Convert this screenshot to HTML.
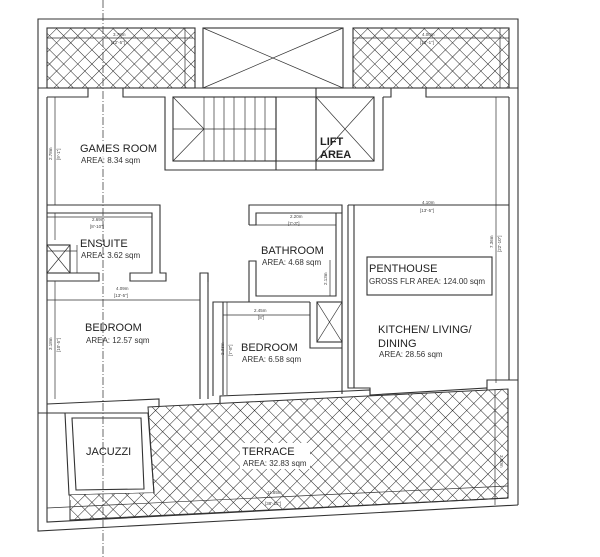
<!DOCTYPE html>
<html><head><meta charset="utf-8"><style>
html,body{margin:0;padding:0;background:#fff;}
svg{display:block;font-family:"Liberation Sans",sans-serif;}
.w{fill:none;stroke:#333;stroke-width:1.1}
.t{fill:#222;font-size:11px}
.s{fill:#333;font-size:8px}
.d{fill:#444;font-size:4.5px}
.dl{stroke:#333;stroke-width:0.7;fill:none}
</style></head><body>
<svg width="600" height="557" viewBox="0 0 600 557" xmlns="http://www.w3.org/2000/svg">
<defs>
<pattern id="h" width="10" height="10" patternUnits="userSpaceOnUse" patternTransform="rotate(45)">
<rect width="10" height="10" fill="#fff"/>
<path d="M0 0H10M0 0V10" stroke="#222" stroke-width="1"/>
</pattern>
</defs>
<rect width="600" height="557" fill="#fff"/>

<!-- top balconies -->
<rect x="47" y="28" width="148" height="60" fill="url(#h)" stroke="#333" stroke-width="1.1"/>
<rect x="353" y="28" width="156" height="60" fill="url(#h)" stroke="#333" stroke-width="1.1"/>
<rect x="203" y="28" width="140" height="60" class="w"/>
<path d="M203 28L343 88M203 88L343 28" class="dl"/>

<!-- outer walls -->
<path d="M38 413V19H518V505" class="w"/>
<path d="M47 413V97" class="w"/>
<path d="M509 97V380" class="w"/>
<path d="M38 88H518" class="w"/>
<path d="M47 97H88V88M123 88V97H165V170H276V161M276 97V170" class="w"/>
<path d="M383 97H391V88M426 88V97H509" class="w"/>

<!-- stairs -->
<rect x="173" y="97" width="103" height="64" class="w"/>
<path d="M173 129H276M173 97L204 129L173 161" class="dl"/>
<path d="M204 97V161M214 97V161M224 97V161M234 97V161M245 97V161M255 97V161M265 97V161" class="dl"/>
<path d="M276 97H316M276 161H316M276 170H316" class="w"/>

<!-- lift -->
<rect x="316" y="97" width="58" height="64" class="w"/>
<path d="M316 97L374 161M374 97L316 161" class="dl"/>
<path d="M316 170H383V97" class="w"/>
<path d="M316 88V170" class="w"/>

<!-- ensuite -->
<path d="M47 205H160V273H166V281H130V273H152V213H47" class="w"/>
<path d="M47 273H99V281H47" class="w"/>
<rect x="47" y="245" width="23" height="28" class="w"/>
<path d="M47 245L70 273M70 245L47 273M47 251H77V273M77 245V273" class="dl"/>

<!-- bedroom1 right wall -->
<path d="M200 399V273H208V399" class="w"/>
<path d="M208 282V273" class="w"/>

<!-- bathroom -->
<path d="M249 225V205H342V213" class="w"/>
<path d="M249 225H256V213H336V296H256V261H249V302" class="w"/>
<path d="M336 213H342V394" class="w"/>
<rect x="317" y="302" width="25" height="40" class="w"/>
<path d="M317 302L342 342M342 302L317 342" class="dl"/>
<path d="M310 302V348H342" class="w"/>

<!-- bedroom2 -->
<path d="M213 396V302H310M223 302V395" class="w"/>

<!-- kitchen -->
<path d="M348 205H509M348 205V388H370V395M354 205V388" class="w"/>
<path d="M487 388V380H518" class="w"/>
<rect x="367" y="257" width="125" height="38" class="w"/>

<!-- bottom slanted walls -->
<path d="M47 404L159 399V407L220 404V396L348 391L370 390V395L487 388V392" class="w"/>
<path d="M38 413H148" class="w"/>
<polygon points="148,407 508,389 508,498 70,520 70,495 154,493" fill="url(#h)" stroke="#333" stroke-width="1"/>
<path d="M47 413V522L508 498V389" class="w"/>
<path d="M38 413V531L518 505" class="w"/>
<polygon points="65,413 148,413 154,493 69,495" class="w" fill="#fff"/>
<polygon points="72,418 141,418 144,489 76,490" class="w"/>
<polygon points="70,495 154,493 154,497 70,500" fill="url(#h)"/>

<!-- dimension lines -->
<path d="M47 508L508 486M55 97V205M47 38H193M185 28V88M353 38H509M500 28V88" class="dl"/>
<path d="M47 217H152M55 213V240M47 300H200M55 281V399M223 315H310M227 302V395M256 225H336M330 260V296M348 205H509M496 97V383M495 390V505" class="dl"/>

<!-- dashed axis -->
<path d="M103 0V557" stroke="#444" stroke-width="0.8" stroke-dasharray="8,2,1,2" fill="none"/>

<!-- labels -->
<rect x="78" y="141" width="82" height="24" fill="#fff" opacity="0.8"/>
<text x="80" y="152" class="t">GAMES ROOM</text>
<text x="81" y="163" class="s">AREA: 8.34 sqm</text>
<text x="80" y="247" class="t">ENSUITE</text>
<text x="81" y="258" class="s">AREA: 3.62 sqm</text>
<text x="85" y="331" class="t">BEDROOM</text>
<text x="86" y="343" class="s">AREA: 12.57 sqm</text>
<text x="261" y="254" class="t">BATHROOM</text>
<text x="262" y="265" class="s">AREA: 4.68 sqm</text>
<text x="241" y="351" class="t">BEDROOM</text>
<text x="242" y="362" class="s">AREA: 6.58 sqm</text>
<text x="369" y="272" class="t">PENTHOUSE</text>
<text x="369" y="284" class="s">GROSS FLR AREA: 124.00 sqm</text>
<text x="378" y="333" class="t">KITCHEN/ LIVING/</text>
<text x="378" y="347" class="t">DINING</text>
<text x="379" y="357" class="s">AREA: 28.56 sqm</text>
<text x="320" y="145" class="t" font-weight="bold">LIFT</text>
<text x="320" y="158" class="t" font-weight="bold">AREA</text>
<text x="86" y="455" class="t">JACUZZI</text>
<rect x="240" y="443" width="70" height="26" fill="#fff"/>
<text x="242" y="455" class="t">TERRACE</text>
<text x="243" y="466" class="s">AREA: 32.83 sqm</text>
<text x="113" y="36" class="d">3.78m</text>
<text x="111" y="44" class="d">[12'-5"]</text>
<text x="422" y="36" class="d">4.00m</text>
<text x="420" y="44" class="d">[13'-1"]</text>
<text x="92" y="221" class="d">2.69m</text>
<text x="90" y="228" class="d">[8'-10"]</text>
<text x="116" y="290" class="d">4.09m</text>
<text x="114" y="297" class="d">[13'-5"]</text>
<text x="254" y="312" class="d">2.45m</text>
<text x="258" y="319" class="d">[8']</text>
<text x="290" y="218" class="d">2.20m</text>
<text x="288" y="225" class="d">[7'-3"]</text>
<text x="422" y="204" class="d">4.10m</text>
<text x="420" y="212" class="d">[13'-5"]</text>
<text x="267" y="494" class="d">11.85m</text>
<text x="265" y="505" class="d">[38'-11"]</text>
<text transform="translate(52,160) rotate(-90)" class="d">2.78m</text>
<text transform="translate(60,160) rotate(-90)" class="d">[9'-1"]</text>
<text transform="translate(52,350) rotate(-90)" class="d">3.18m</text>
<text transform="translate(60,352) rotate(-90)" class="d">[10'-5"]</text>
<text transform="translate(224,355) rotate(-90)" class="d">2.33m</text>
<text transform="translate(232,356) rotate(-90)" class="d">[7'-8"]</text>
<text transform="translate(493,248) rotate(-90)" class="d">7.36m</text>
<text transform="translate(501,252) rotate(-90)" class="d">[22'-10"]</text>
<text transform="translate(327,285) rotate(-90)" class="d">2.13m</text>
<text transform="translate(500,455) rotate(90)" class="d">3.00m</text>
</svg>
</body></html>
